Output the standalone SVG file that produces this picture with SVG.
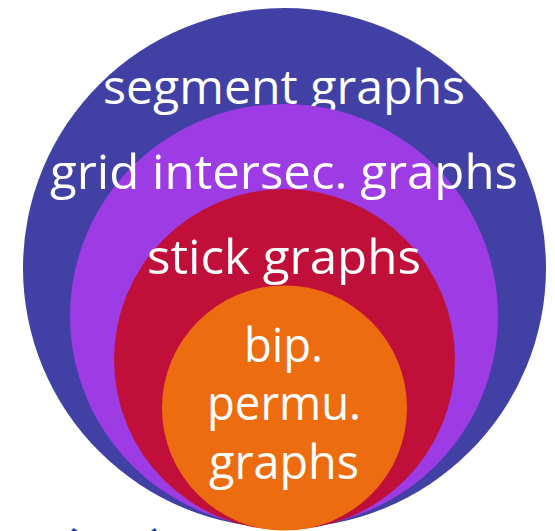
<svg xmlns="http://www.w3.org/2000/svg" width="555" height="531" viewBox="0 0 555 531">
<style>
.lbl{font-family:"Open Sans","Liberation Sans",Arial,sans-serif;font-size:47px;font-weight:400;fill:#ffffff;text-anchor:middle}
.mark{fill:#1a3f9c}
</style>
<rect width="555" height="531" fill="#ffffff"/>
<g id="segment">
<ellipse cx="284.5" cy="268" rx="261.5" ry="260" fill="#4141A5"/>
<text class="lbl" x="284" y="104" textLength="362" lengthAdjust="spacingAndGlyphs">segment graphs</text>
</g>
<g id="grid">
<ellipse cx="284" cy="316" rx="214" ry="212" fill="#9D3BE5"/>
<text class="lbl" x="284" y="189" textLength="468" lengthAdjust="spacingAndGlyphs">grid intersec. graphs</text>
</g>
<g id="stick">
<circle cx="284.5" cy="359.5" r="170.5" fill="#C0103A"/>
<text class="lbl" x="284" y="274" textLength="274" lengthAdjust="spacingAndGlyphs">stick graphs</text>
</g>
<g id="bip">
<circle cx="284.5" cy="408" r="122.5" fill="#ED6C10"/>
<text class="lbl" x="283.5" y="362" textLength="79" lengthAdjust="spacingAndGlyphs">bip.</text>
<text class="lbl" x="284" y="420" textLength="154" lengthAdjust="spacingAndGlyphs">permu.</text>
<text class="lbl" x="284" y="479" textLength="150" lengthAdjust="spacingAndGlyphs">graphs</text>
</g>
<path class="mark" d="M71,531 L73.5,528 L78,531 Z"/>
<path class="mark" d="M151,531 L155,528 L157,531 Z"/>
</svg>
